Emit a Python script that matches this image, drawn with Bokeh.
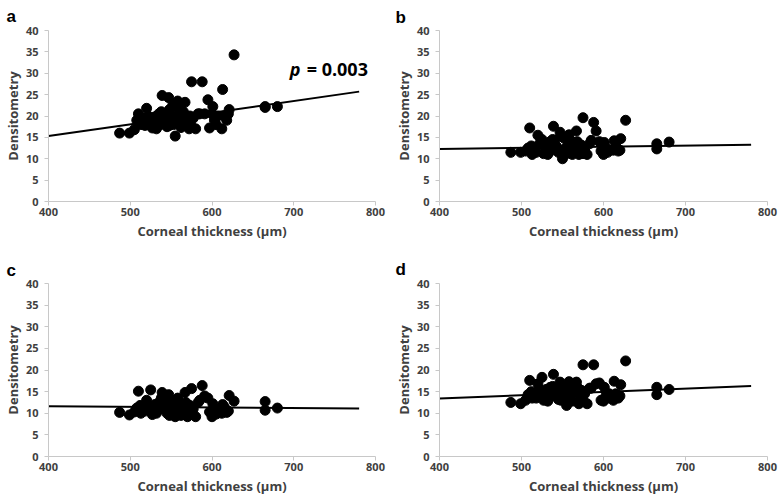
from bokeh.plotting import figure
from bokeh.layouts import gridplot
from bokeh.models import Range1d, FixedTicker, Label, Title
from bokeh.embed import file_html
from bokeh.resources import INLINE

# ---- data ----
thickness = [487, 499, 505, 508, 510, 512, 515, 518, 520, 522,
             525, 527, 530, 532, 535, 537, 539, 540, 542, 545,
             547, 548, 550, 552, 553, 555, 556, 558, 560, 562,
             565, 567, 568, 570, 572, 575, 577, 580, 585, 588,
             591, 595, 597, 600, 601, 603, 607, 612, 613, 615,
             618, 620, 621, 627, 665, 665, 680, 513, 528, 533,
             543, 557, 563, 573, 583, 605, 548, 538, 575, 560]
dens_a = [16.0, 16.0, 16.8, 19.0, 20.5, 18.5, 19.5, 17.8, 21.8, 20.0,
          18.5, 17.2, 19.8, 17.0, 20.5, 18.0, 24.8, 20.5, 18.8, 17.5,
          24.3, 21.5, 19.5, 22.5, 18.0, 15.3, 20.0, 23.5, 19.0, 17.3,
          21.0, 23.2, 20.0, 18.5, 17.0, 28.0, 19.5, 17.0, 20.5, 28.0,
          20.5, 23.8, 17.2, 20.5, 22.2, 19.0, 20.0, 17.0, 26.2, 20.0,
          19.0, 20.5, 21.5, 34.3, 22.2, 22.0, 22.2, 18.0, 19.0, 18.5,
          20.0, 18.5, 19.8, 20.0, 20.5, 18.0, 17.8, 21.0, 17.5, 21.5]
dens_b = [11.5, 11.5, 11.8, 12.5, 17.2, 13.0, 12.0, 11.5, 15.5, 13.5,
          14.5, 11.2, 12.5, 11.0, 14.0, 12.0, 17.6, 13.8, 12.5, 11.5,
          16.2, 15.2, 10.0, 14.8, 12.2, 11.2, 13.0, 15.6, 12.0, 11.0,
          13.5, 16.5, 14.0, 11.0, 12.5, 19.6, 12.0, 11.0, 14.3, 18.5,
          16.5, 14.0, 11.8, 11.0, 13.8, 12.5, 12.0, 12.0, 14.2, 13.0,
          11.8, 12.0, 14.7, 19.0, 13.5, 12.3, 13.9, 11.0, 13.0, 12.0,
          12.8, 11.5, 12.8, 13.2, 13.5, 11.5, 11.3, 14.5, 11.2, 14.2]
dens_c = [10.2, 9.6, 10.3, 11.2, 15.1, 11.8, 10.8, 10.5, 13.0, 11.5,
          15.4, 9.7, 12.0, 10.0, 12.5, 11.0, 14.8, 13.2, 11.6, 10.0,
          14.3, 13.0, 11.0, 12.0, 9.8, 9.2, 12.5, 13.5, 10.5, 9.5,
          11.5, 14.8, 12.5, 9.2, 10.5, 15.7, 11.0, 9.2, 13.0, 16.4,
          14.0, 13.5, 10.3, 9.2, 12.2, 11.0, 10.5, 10.0, 12.0, 11.5,
          10.2, 10.5, 14.1, 12.8, 12.7, 10.7, 11.2, 10.0, 11.5, 10.8,
          12.2, 10.2, 11.8, 11.8, 12.5, 9.8, 9.5, 13.5, 9.8, 12.5]
dens_d = [12.5, 12.2, 13.0, 14.3, 17.6, 15.0, 14.0, 13.5, 16.8, 15.5,
          18.3, 13.0, 15.5, 12.8, 16.0, 14.0, 19.0, 16.0, 14.8, 13.2,
          17.2, 16.5, 14.5, 15.8, 13.8, 11.8, 15.0, 17.3, 14.2, 12.8,
          15.5, 17.2, 16.0, 12.2, 14.0, 21.2, 14.5, 12.2, 15.8, 21.2,
          16.8, 17.0, 13.0, 12.8, 16.0, 14.0, 14.5, 13.0, 17.4, 14.5,
          13.5, 14.0, 16.6, 22.1, 16.0, 14.3, 15.5, 13.5, 14.5, 14.2,
          15.0, 13.3, 15.2, 15.3, 15.8, 13.5, 13.0, 16.2, 13.0, 16.0]

fit_x = [400, 780]
fit_a = [15.3, 25.7]
fit_b = [12.3, 13.3]
fit_c = [11.6, 11.1]
fit_d = [13.4, 16.3]

panel_letters = ["a", "b", "c", "d"]
x_ticks = [400, 500, 600, 700, 800]
y_ticks = [0, 5, 10, 15, 20, 25, 30, 35, 40]
x_title = "Corneal thickness (\u00b5m)"
y_title = "Densitometry"
p_label_italic = "p"
p_label_rest = "= 0.003"
p_label_pos = (695, 30.9)

FONT = "Open Sans"


def make_panel(letter, dens, fit, col, row):
    width = 389
    height = 251 if row == 0 else 252
    left = 45 if col == 0 else 50
    right = 14 if col == 0 else 11
    top = 29 if row == 0 else 32
    bottom = 50 if row == 0 else 47
    p = figure(width=width, height=height, output_backend="svg", toolbar_location=None,
               x_range=Range1d(400, 800), y_range=Range1d(0, 40),
               min_border_left=left, min_border_right=right,
               min_border_top=top, min_border_bottom=bottom)
    p.outline_line_color = None
    p.xgrid.visible = False
    p.ygrid.visible = False
    p.xaxis.ticker = FixedTicker(ticks=x_ticks)
    p.yaxis.ticker = FixedTicker(ticks=y_ticks)
    for ax in (p.xaxis[0], p.yaxis[0]):
        ax.axis_line_color = "#c8c8c8"
        ax.major_tick_line_color = "#c8c8c8"
        ax.major_tick_out = 4
        ax.major_tick_in = 0
        ax.minor_tick_line_color = None
        ax.major_label_text_font = FONT
        ax.major_label_text_font_style = "bold"
        ax.major_label_text_font_size = "11px"
        ax.major_label_text_color = "#404040"
        ax.major_label_text_line_height = 1.0
        ax.axis_label_text_font = FONT
        ax.axis_label_text_font_style = "bold"
        ax.axis_label_text_font_size = "13px"
        ax.axis_label_text_color = "#404040"
        ax.axis_label_text_line_height = 1.0
    p.xaxis.axis_label = x_title
    p.yaxis.axis_label = y_title
    p.xaxis.major_label_standoff = 2
    p.xaxis.axis_label_standoff = 3
    p.yaxis.major_label_standoff = 6
    p.yaxis.axis_label_standoff = 1

    p.line(fit_x, fit, line_color="black", line_width=2)
    p.scatter(thickness, dens, size=10, fill_color="black", line_color="black")

    standoff = {(0, 0): 9, (1, 0): 8, (0, 1): 7, (1, 1): 9}[(col, row)]
    dx = 42 if col == 0 else 44
    p.add_layout(Title(text=letter, align="left", offset=-dx,
                       text_font="Liberation Sans", text_font_style="bold",
                       text_font_size="17px", text_color="black",
                       standoff=standoff), "above")
    return p


pa = make_panel("a", dens_a, fit_a, 0, 0)
pb = make_panel("b", dens_b, fit_b, 1, 0)
pc = make_panel("c", dens_c, fit_c, 0, 1)
pd = make_panel("d", dens_d, fit_d, 1, 1)

pa.add_layout(Label(x=p_label_pos[0], y=p_label_pos[1], text=p_label_italic,
                    text_font=FONT, text_font_style="bold italic", text_font_size="18px",
                    text_color="black", text_baseline="middle"))
pa.add_layout(Label(x=p_label_pos[0], y=p_label_pos[1], x_offset=17, text=p_label_rest,
                    text_font=FONT, text_font_style="bold", text_font_size="18px",
                    text_color="black", text_baseline="middle"))

grid = gridplot([[pa, pb], [pc, pd]], toolbar_location=None)

open("out.html", "w").write(file_html(grid, INLINE))
